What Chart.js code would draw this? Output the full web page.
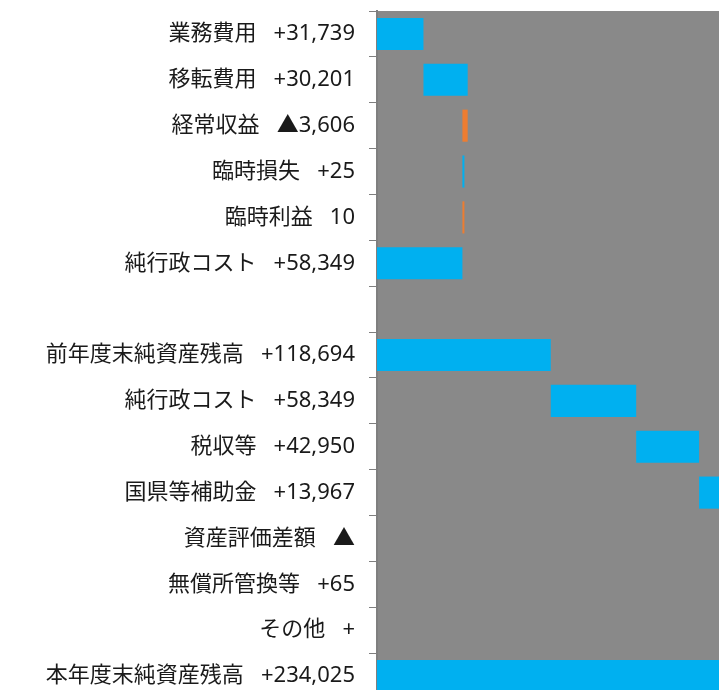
<!DOCTYPE html>
<html lang="ja">
<head>
<meta charset="utf-8">
<script src="https://cdn.jsdelivr.net/npm/chart.js@4/dist/chart.umd.min.js"></script>
<style>
    html, body { margin: 0; padding: 0; background: #ffffff; overflow: hidden; }
    #wrap { position: absolute; left: 0; top: 0; width: 760px; height: 715px; }
</style>
</head>
<body>
<div id="wrap"><canvas id="waterfall"></canvas></div>
<script>
// rows, top to bottom
const categories = ['業務費用', '移転費用', '経常収益', '臨時損失', '臨時利益', '純行政コスト', '',
    '前年度末純資産残高', '純行政コスト', '税収等', '国県等補助金', '資産評価差額', '無償所管換等', 'その他', '本年度末純資産残高'];
const valueLabels = ['+31,739', '+30,201', '▲3,606', '+25', '10', '+58,349', '',
    '+118,694', '+58,349', '+42,950', '+13,967', '▲', '+65', '+', '+234,025'];

// floating bar ends
const barFrom = [0, 31739, 58334, 58334, 58349, 0, null,
    0, 118694, 177043, 219993, 233960, 233960, null, 0];
const barTo = [31739, 61940, 61940, 58359, 58359, 58349, null,
    118694, 177043, 219993, 233960, 233960, 234025, null, 234025];
const barKind = ['up', 'up', 'down', 'up', 'down', 'up', '',
    'up', 'up', 'up', 'up', 'down', 'up', '', 'up'];

const xMax = 250000;

document.addEventListener('DOMContentLoaded', function () {
    const canvas = document.getElementById('waterfall');

    const tickLabels = categories.map(function (name, i) {
        return name ? name + '   ' + valueLabels[i] : '';
    });
    const ranges = barFrom.map(function (from, i) {
        return from === null ? null : [from, barTo[i]];
    });
    const colors = barKind.map(function (k) {
        return k === 'down' ? '#ED7D31' : '#00B0F0';
    });

    const plotBackground = {
        id: 'plotBackground',
        beforeDraw: function (chart) {
            const a = chart.chartArea;
            const ctx = chart.ctx;
            ctx.save();
            ctx.fillStyle = '#898989';
            ctx.fillRect(a.left, a.top, a.right - a.left, a.bottom - a.top);
            ctx.restore();
        }
    };

    new Chart(canvas, {
        type: 'bar',
        data: {
            labels: tickLabels,
            datasets: [{
                data: ranges,
                backgroundColor: colors,
                borderWidth: 0,
                barPercentage: 0.7,
                categoryPercentage: 1,
                minBarLength: 2
            }]
        },
        options: {
            indexAxis: 'y',
            responsive: true,
            maintainAspectRatio: false,
            animation: false,
            layout: { padding: { top: 11, bottom: 16, left: 0, right: 17 } },
            plugins: {
                legend: { display: false },
                tooltip: { enabled: false }
            },
            scales: {
                x: {
                    display: false,
                    min: 0,
                    max: xMax
                },
                y: {
                    afterFit: function (scale) {
                        scale.width = 377;
                        scale.paddingTop = 0;
                        scale.paddingBottom = 0;
                    },
                    grid: {
                        display: true,
                        drawOnChartArea: false,
                        drawTicks: true,
                        tickLength: 8,
                        color: '#7f7f7f',
                        offset: true
                    },
                    border: { display: true, color: '#7f7f7f', width: 2 },
                    ticks: {
                        padding: 14,
                        color: '#1a1a1a',
                        autoSkip: false,
                        font: { family: '"Noto Sans", "Noto Sans CJK JP", sans-serif', size: 22 }
                    }
                }
            }
        },
        plugins: [plotBackground]
    });
});
</script>
</body>
</html>
